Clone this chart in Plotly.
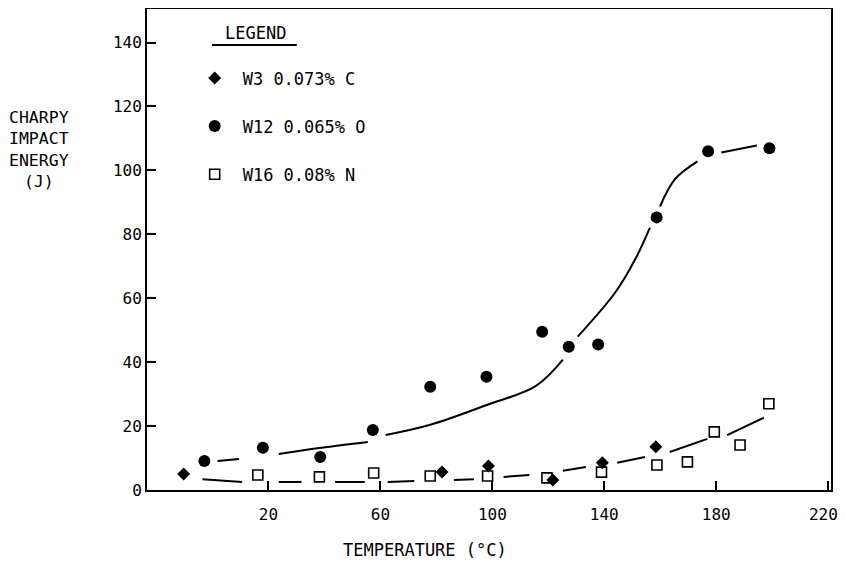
import plotly.graph_objects as go

# ---- data ----
w3_x = [-10.3, 82.0, 98.6, 121.6, 139.3, 158.4]
w3_y = [5.0, 5.6, 7.5, 3.1, 8.5, 13.5]

w12_x = [-2.9, 18.0, 38.5, 57.3, 77.8, 97.9, 117.8, 127.3, 137.8, 158.7, 177.1, 199.0]
w12_y = [9.1, 13.2, 10.3, 18.8, 32.3, 35.4, 49.5, 44.8, 45.5, 85.3, 106.0, 106.9]

w16_x = [16.2, 38.2, 57.6, 77.8, 98.3, 119.5, 139.0, 158.8, 169.7, 179.3, 188.5, 198.8]
w16_y = [4.7, 4.1, 5.3, 4.4, 4.4, 3.8, 5.6, 7.8, 8.8, 18.2, 14.1, 27.0]

# hand-drawn trend curves (broken segments, None = gap)
w12_curve_x = [1.8, 9.5, None, 23.7, 38.9, 55.5, None, 61.9, 77.8, 98.0, 115.6, 125.2, None,
               130.5, 143.9, 151.0, 156.3, None, 159.9, 165.2, 173.3, None, 181.8, 194.5]
w12_curve_y = [9.1, 9.7, None, 11.3, 13.2, 15.0, None, 17.2, 20.4, 26.6, 32.6, 40.8, None,
               48.0, 61.8, 72.1, 82.1, None, 88.7, 97.2, 102.8, None, 105.6, 107.8]

w16_curve_x = [-3.6, 10.6, None, 23.7, 31.8, None, 43.8, 54.4, None, 62.6, 72.1, None,
               86.3, 93.4, None, 104.0, 113.2, None, 125.2, 133.4, None, 144.6, 154.5, None,
               163.4, 176.8, None, 183.9, 197.0]
w16_curve_y = [3.4, 2.5, None, 2.5, 2.5, None, 2.5, 2.5, None, 2.5, 2.8, None,
               3.1, 3.4, None, 4.1, 4.7, None, 6.0, 7.2, None, 8.5, 10.3, None,
               11.9, 16.0, None, 17.2, 22.6]

names = ["W3 0.073% C", "W12 0.065% O", "W16 0.08% N"]
x_ticks = [20, 60, 100, 140, 180, 220]
x_tick_labels = ["20", "60", "100", "140", "180", "220\u00a0"]
y_ticks = [0, 20, 40, 60, 80, 100, 120, 140]

FONT = "DejaVu Sans Mono"
PH = 481.0  # plot-area height in px (page y 9..490)

fig = go.Figure()

fig.add_trace(go.Scatter(x=w12_curve_x, y=w12_curve_y, mode="lines",
                         line=dict(color="black", width=2, shape="spline", smoothing=1.0),
                         connectgaps=False, showlegend=False, hoverinfo="skip"))
fig.add_trace(go.Scatter(x=w16_curve_x, y=w16_curve_y, mode="lines",
                         line=dict(color="black", width=2, shape="spline", smoothing=1.0),
                         connectgaps=False, showlegend=False, hoverinfo="skip"))

fig.add_trace(go.Scatter(x=w16_x, y=w16_y, mode="markers", name=names[2], legendgroup="c",
                         legendrank=3,
                         marker=dict(symbol="square-open", size=10, color="black",
                                     line=dict(width=1.6, color="black"))))
fig.add_trace(go.Scatter(x=w3_x, y=w3_y, mode="markers", name=names[0], legendgroup="a",
                         legendrank=1,
                         marker=dict(symbol="diamond", size=10, color="black")))
fig.add_trace(go.Scatter(x=w12_x, y=w12_y, mode="markers", name=names[1], legendgroup="b",
                         legendrank=2,
                         marker=dict(symbol="circle", size=12, color="black")))

# page body has an 8px margin on every side: figure 837x552 fits the 845x568 window
fig.update_layout(
    width=837, height=552,
    margin=dict(l=139, r=14, t=1, b=70, autoexpand=False),
    paper_bgcolor="white", plot_bgcolor="white",
    font=dict(family=FONT, size=16, color="black"),
    showlegend=True,
    legend=dict(x=0.058, y=0.893, xanchor="left", yanchor="top",
                traceorder="grouped", tracegroupgap=23,
                font=dict(family=FONT, size=17, color="black"),
                bgcolor="rgba(0,0,0,0)", itemwidth=46),
    xaxis=dict(range=[-23.4, 221.0], tickvals=x_ticks, ticktext=x_tick_labels,
               automargin=False,
               showgrid=False, zeroline=False, showline=True, linecolor="black", linewidth=2,
               mirror=True, ticks="inside", ticklen=9, tickwidth=2, tickcolor="black",
               ticklabelstandoff=9, ticklabeloverflow="allow",
               tickfont=dict(family=FONT, size=16)),
    yaxis=dict(range=[0, 150.5], tickvals=y_ticks, ticktext=[str(v) for v in y_ticks],
               automargin=False,
               showgrid=False, zeroline=False, showline=True, linecolor="black", linewidth=2,
               mirror=True, ticks="inside", ticklen=9, tickwidth=2, tickcolor="black",
               ticklabeloverflow="allow", tickfont=dict(family=FONT, size=16)),
)

# legend heading with underline
fig.add_annotation(text="LEGEND", xref="paper", yref="paper", x=0.158, y=(490 - 33) / PH,
                   showarrow=False, font=dict(family=FONT, size=17), xanchor="center", yanchor="middle")
fig.add_shape(type="line", xref="paper", yref="paper", x0=0.095, x1=0.219,
              y0=(490 - 45) / PH, y1=(490 - 45) / PH, line=dict(color="black", width=2))

# axis titles
fig.add_annotation(text="CHARPY<br>IMPACT<br>ENERGY<br>(J)", xref="paper", yref="paper",
                   x=-0.1586, y=(490 - 106) / PH, xanchor="center", yanchor="top",
                   align="center", showarrow=False, font=dict(family=FONT, size=16.5))
fig.add_annotation(text="TEMPERATURE (°C)", xref="paper", yref="paper",
                   x=(425 - 147) / 684, y=(490 - 550) / PH, xanchor="center", yanchor="middle",
                   showarrow=False, font=dict(family=FONT, size=17))

fig.write_html("out.html")
